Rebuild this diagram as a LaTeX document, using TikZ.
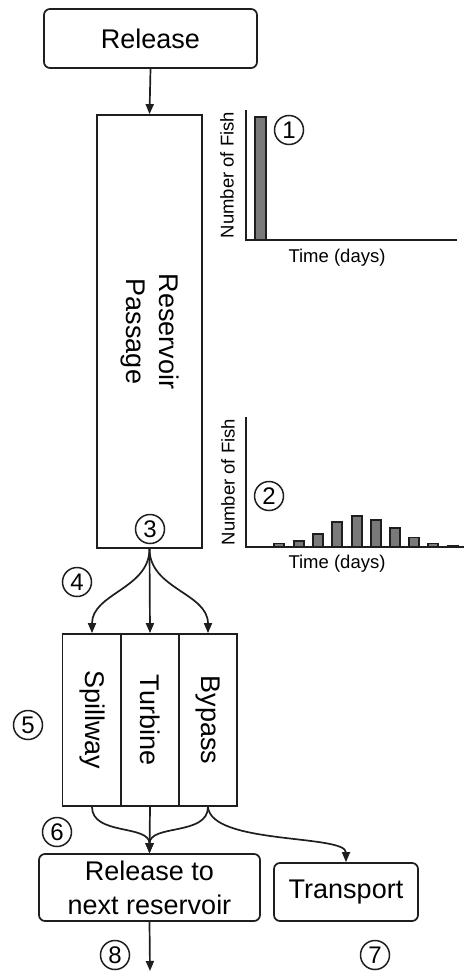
\documentclass[tikz,border=0pt]{standalone}
\usepackage{fontspec}
\setmainfont{Liberation Sans}
\usetikzlibrary{arrows.meta}
\definecolor{ink}{HTML}{1E1E1E}
\definecolor{barfill}{HTML}{7A7A7A}
\tikzset{
  box/.style={draw=ink, line width=1.7pt, inner sep=0pt, font=\fontsize{27}{33}\selectfont},
  roundbox/.style={box, rounded corners=6pt},
  vlabel/.style={rotate=-90, inner sep=0pt, font=\fontsize{27}{33}\selectfont, align=center},
  numc/.style={circle, draw=ink, line width=1.5pt, minimum size=29pt, inner sep=0pt, font=\fontsize{24}{24}\selectfont},
  chartlbl/.style={inner sep=0pt, font=\fontsize{18.5}{20}\selectfont},
  arr/.style={draw=ink, line width=1.7pt, -{Triangle[length=10pt,width=8pt]}},
  axis/.style={draw=ink, line width=1.7pt},
  bar/.style={draw=ink, fill=barfill, line width=1.2pt}
}
\begin{document}
\begin{tikzpicture}[x=1pt,y=-1pt]
\useasboundingbox (0,0) rectangle (464,971);
% boxes
\node[roundbox, minimum width=213pt, minimum height=59pt] (rel) at (150.5,38.5) {Release};
\node[box, minimum width=105pt, minimum height=433pt] (res) at (149.5,331.5) {};
\node[vlabel] (restxt) at (res.center) {Reservoir\\Passage};
\node[box, minimum width=59pt, minimum height=172pt] (sp) at (92,720) {};
\node[box, minimum width=58pt, minimum height=172pt] (tu) at (150,720) {};
\node[box, minimum width=58pt, minimum height=172pt] (bp) at (208,720) {};
\node[vlabel] (sptxt) at (sp.center) {Spillway};
\node[vlabel] (tutxt) at (tu.center) {Turbine};
\node[vlabel] (bptxt) at (bp.center) {Bypass};
\node[roundbox, minimum width=221pt, minimum height=67pt, align=center, font=\fontsize{27}{34}\selectfont] (nxt) at (149.5,887.5) {Release to\\next reservoir};
\node[roundbox, minimum width=144pt, minimum height=58pt] (tr) at (346,892) {Transport};
\coordinate (out) at (150,971);
% connectors
\draw[arr] (rel.south) -- (res.north);
\draw[arr] (res.south) to[out=-90,in=90] (sp.north);
\draw[arr] (res.south) -- (tu.north);
\draw[arr] (res.south) to[out=-90,in=90] (bp.north);
\draw[arr] (sp.south) to[out=-90,in=90] (nxt.north);
\draw[arr] (tu.south) -- (nxt.north);
\draw[arr] (bp.south) to[out=-90,in=90] (nxt.north);
\draw[arr] (bp.south) .. controls +(3,38) and +(0,-28) .. (tr.north);
\draw[arr] (nxt.south) -- (out);
% chart 1
\draw[bar] (255,117) rectangle (266,240);
\draw[axis] (246,110) -- (246,240) -- (457,240);
\node[chartlbl, rotate=90] (yl1) at (227,175) {Number of Fish};
\node[chartlbl] (xl1) at (337,258) {Time (days)};
% chart 2
\foreach \cx/\h in {279/3.3, 299/6, 318/13, 337/25, 357/31, 376/27, 395/19, 414/9.3, 433/3.3, 453/1.5}
  \draw[bar] (\cx-5,547) rectangle (\cx+5,547-\h);
\draw[axis] (246,417) -- (246,547) -- (464,547);
\node[chartlbl, rotate=90] (yl2) at (228,482) {Number of Fish};
\node[chartlbl] (xl2) at (337,564) {Time (days)};
% circled numbers
\node[numc] (n1) at (289,130) {1};
\node[numc] (n2) at (269,496) {2};
\node[numc, fill=white] (n3) at (150,529) {3};
\node[numc] (n4) at (77,582) {4};
\node[numc] (n5) at (28,725) {5};
\node[numc] (n6) at (57,832) {6};
\node[numc] (n7) at (375,955) {7};
\node[numc] (n8) at (115,955) {8};
\end{tikzpicture}
\end{document}
